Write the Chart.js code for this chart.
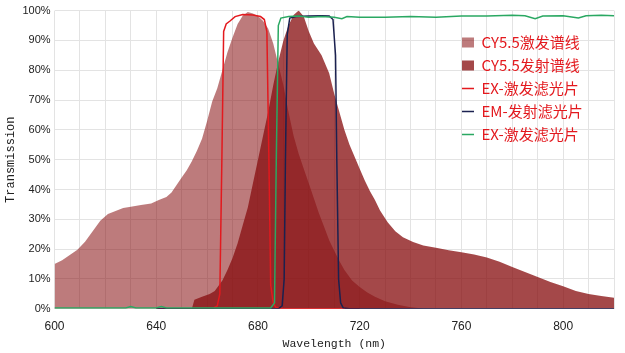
<!DOCTYPE html>
<html>
<head>
<meta charset="utf-8">
<script src="https://cdn.jsdelivr.net/npm/chart.js@4.4.1/dist/chart.umd.min.js"></script>
<style>
    body { margin: 0; background: #fff; }
    canvas { display: block; }
</style>
</head>
<body>
<canvas id="myChart" width="625" height="353"></canvas>
<script>
// CY5.5 excitation spectrum
const excWl = [600, 603, 606, 609, 612, 615, 618, 621, 624, 627, 630, 634, 638, 641, 644, 646, 648, 650, 652, 654, 656, 658, 660, 662, 664, 666, 668, 670, 672, 674, 676, 678, 680, 682, 684, 686, 688, 690, 692, 694, 696, 698, 700, 702, 704, 706, 708, 710, 712, 714, 717, 720, 723, 726, 730, 735, 740, 745, 750];
const excVal = [15, 16.3, 18, 19.8, 22.5, 26, 29.5, 31.8, 32.8, 33.8, 34.2, 34.8, 35.3, 36.5, 37.5, 39, 41.5, 44, 46.5, 49.5, 53, 57, 63, 69.5, 74, 80, 86, 91, 95.5, 98.3, 99.5, 99, 98.2, 96.5, 94, 89, 82, 75, 66, 58, 52, 47, 42, 37, 32, 27.5, 23, 19.5, 16, 13, 9.5, 7.3, 5.5, 4, 2.5, 1.4, 0.5, 0.1, 0];

// CY5.5 emission spectrum
const emWl = [654, 655, 658, 661, 663, 666, 668, 670, 672, 674, 676, 678, 680, 682, 684, 686, 688, 690, 692, 694, 696, 698, 700, 702, 705, 708, 710, 712, 714, 716, 718, 720, 722, 724, 726, 728, 731, 734, 737, 741, 745, 750, 755, 760, 765, 770, 775, 780, 785, 790, 795, 800, 805, 810, 815, 820];
const emVal = [0, 3, 4, 5, 6, 9.5, 13, 17, 22, 28, 34, 42, 50, 58, 66, 75, 83, 90, 95, 98.5, 100, 98, 93, 89, 85, 79, 72, 66, 60, 55, 51, 47, 43, 39.5, 36.5, 33, 29, 26, 24, 22.4, 21.2, 20.5, 19.6, 19, 18.2, 17.2, 15.8, 14, 12.3, 10.7, 9, 7.6, 6, 5, 4.3, 3.7];

// EX filter (red)
const exRedWl = [640, 662, 664, 665, 665.8, 666.5, 667.5, 669, 671, 674, 678, 681, 682.5, 683.5, 684.3, 685, 686, 687, 690, 720];
const exRedVal = [0, 0, 1, 5, 50, 93, 95.5, 96.5, 98, 98.7, 98.5, 98, 97, 93, 50, 8, 2, 0.5, 0, 0];

// EM filter (navy)
const emNavyWl = [640, 688, 689.5, 690.3, 690.8, 691.5, 692.5, 695, 700, 705, 708, 709.5, 710.5, 711, 711.7, 712.5, 713.5, 716, 820];
const emNavyVal = [0, 0, 1, 10, 50, 92, 97.5, 98, 98.2, 98.3, 98.2, 97, 85, 50, 10, 2, 0.3, 0, 0];

// EX filter (green)
const exGreenWl = [600, 628, 630, 632, 640, 642, 644, 685, 686.5, 687.2, 688, 689, 692, 696, 700, 705, 710, 713, 715, 720, 730, 740, 750, 760, 770, 780, 785, 789, 792, 800, 806, 809, 815, 820];
const exGreenVal = [0.3, 0.3, 0.8, 0.3, 0.3, 0.8, 0.3, 0.3, 2, 50, 95, 97.5, 98, 98.2, 97.8, 98, 97.8, 97.3, 98, 97.8, 97.8, 98, 97.8, 98.2, 98.2, 98.4, 98.3, 97.3, 98.2, 98.3, 97.5, 98.3, 98.4, 98.3];

const seriesNames = ["CY5.5激发谱线", "CY5.5发射谱线", "EX-激发滤光片", "EM-发射滤光片", "EX-激发滤光片"];
const xTicks = [600, 640, 680, 720, 760, 800];

function points(xs, ys) {
    return xs.map((x, i) => ({ x: x, y: ys[i] }));
}

// put the legend inside the plot, top right
const moveLegend = {
    id: 'moveLegend',
    afterLayout(chart) {
        const lg = chart.legend;
        const h = lg.height;
        lg.left = 454;
        lg.right = lg.left + lg.width;
        lg.top = 27;
        lg.bottom = lg.top + h;
    }
};

// datasets listed top-most first, legend reversed
const info = {
    datasets: [
        {
            label: seriesNames[4],
            data: points(exGreenWl, exGreenVal),
            borderColor: "#2aa862",
            borderWidth: 1.5,
            pointRadius: 0,
            pointStyle: 'line',
            fill: false,
        },
        {
            label: seriesNames[3],
            data: points(emNavyWl, emNavyVal),
            borderColor: "#1b2150",
            borderWidth: 1.5,
            pointRadius: 0,
            pointStyle: 'line',
            fill: false,
        },
        {
            label: seriesNames[2],
            data: points(exRedWl, exRedVal),
            borderColor: "#e3191e",
            borderWidth: 1.5,
            pointRadius: 0,
            pointStyle: 'line',
            fill: false,
        },
        {
            label: seriesNames[1],
            data: points(emWl, emVal),
            borderWidth: 0,
            borderColor: "rgba(0,0,0,0)",
            backgroundColor: "rgba(135,14,16,0.76)",
            pointRadius: 0,
            pointStyle: 'rect',
            fill: 'origin',
        },
        {
            label: seriesNames[0],
            data: points(excWl, excVal),
            borderWidth: 0,
            borderColor: "rgba(0,0,0,0)",
            backgroundColor: "rgba(135,14,16,0.55)",
            pointRadius: 0,
            pointStyle: 'rect',
            fill: 'origin',
        },
    ]
};

const config = {
    type: 'line',
    data: info,
    options: {
        responsive: false,
        animation: false,
        layout: {
            padding: { top: 0, right: 9, left: 4, bottom: 2 }
        },
        scales: {
            x: {
                type: 'linear',
                min: 600,
                max: 820,
                grid: { color: '#e3e3e3', drawTicks: false },
                border: { display: false },
                ticks: {
                    stepSize: 10,
                    autoSkip: false,
                    maxRotation: 0,
                    padding: 11,
                    color: '#222',
                    font: { family: 'Liberation Sans', size: 12 },
                    callback: function (value) {
                        return xTicks.includes(value) ? String(value) : '';
                    }
                },
                title: {
                    display: true,
                    text: 'Wavelength (nm)',
                    color: '#222',
                    padding: { top: -8, bottom: 0 },
                    font: { family: 'Liberation Mono', size: 11.5 },
                }
            },
            y: {
                min: 0,
                max: 100,
                grid: { color: '#e3e3e3', drawTicks: false },
                border: { display: false },
                ticks: {
                    stepSize: 10,
                    padding: 4,
                    color: '#222',
                    font: { family: 'Liberation Sans', size: 11 },
                    callback: function (value) {
                        return value + '%';
                    }
                },
                title: {
                    display: true,
                    text: 'Transmission',
                    color: '#222',
                    padding: { top: 0, bottom: 0 },
                    font: { family: 'Liberation Mono', size: 12 },
                }
            },
        },
        plugins: {
            legend: {
                position: 'chartArea',
                align: 'start',
                reverse: true,
                labels: {
                    usePointStyle: true,
                    pointStyleWidth: 12,
                    boxWidth: 12,
                    boxHeight: 10,
                    padding: 8,
                    color: '#e3191e',
                    font: { family: 'Noto Sans CJK SC', size: 15 },
                }
            },
            tooltip: { enabled: false }
        }
    },
    plugins: [moveLegend]
};

let expensesChart = new Chart('myChart', config);
</script>
</body>
</html>
